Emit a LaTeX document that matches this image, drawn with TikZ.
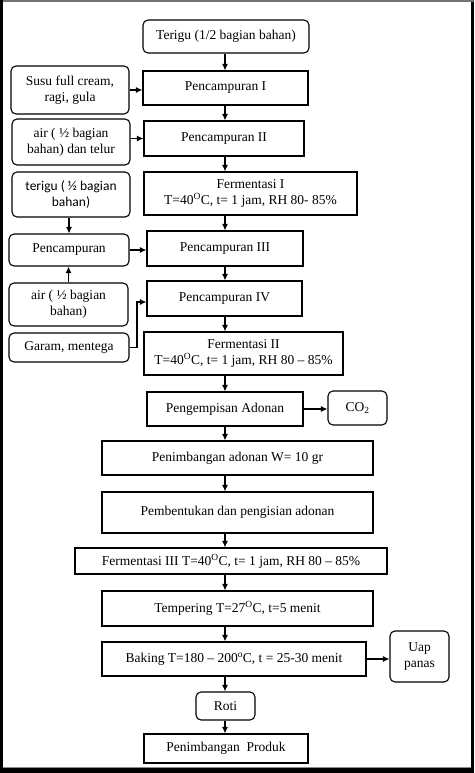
\documentclass[tikz,border=0pt]{standalone}
\usepackage{fontspec}
\setmainfont{Liberation Serif}
\newfontfamily\calfont{Carlito}
\usetikzlibrary{arrows.meta}
\tikzset{
  box/.style={draw=black, line width=1.1pt, inner sep=0pt, align=center,
    font=\fontsize{13.5}{16}\selectfont},
  rbox/.style={box, rounded corners=5pt},
  arr/.style={line width=1.1pt, -{Latex[length=6.5pt,width=6pt]}},
}
\begin{document}
\begin{tikzpicture}[x=1pt,y=-1pt]
\useasboundingbox (0,0) rectangle (474,773);
\fill[black] (0,0) rectangle (474,773);
\fill[black!55] (2.7,0) rectangle (474,2.3);
\fill[white] (2.7,2.3) rectangle (471,767.5);
\draw[black!45, line width=0.6pt] (2.7,767.3) -- (471,767.3);

\node[rbox, minimum width=166, minimum height=33] (t1) at (226,36.5) {Terigu (1/2 bagian bahan)};
\node[rbox, minimum width=118, minimum height=48] (susu) at (70,90) {Susu full cream,\\ragi, gula};
\node[box, minimum width=165, minimum height=34] (p1) at (225.5,88) {Pencampuran I};
\node[rbox, minimum width=118, minimum height=46] (air1) at (71,142) {air ( ½ bagian\\bahan) dan telur};
\node[box, minimum width=160, minimum height=35] (p2) at (224,138.5) {Pencampuran II};
\node[box, minimum width=213, minimum height=43] (f1) at (250.5,193.5) {Fermentasi I\\T=40\textsuperscript{O}C, t= 1 jam, RH 80- 85\%};
\node[rbox, minimum width=118, minimum height=45, font=\calfont\fontsize{13.5}{16}\selectfont] (t2) at (71,194.5) {terigu ( ½ bagian\\bahan)};
\node[rbox, minimum width=120, minimum height=32] (pc) at (69,250) {Pencampuran};
\node[box, minimum width=156, minimum height=35] (p3) at (225,248.5) {Pencampuran III};
\node[rbox, minimum width=119, minimum height=43] (air2) at (68.5,304.5) {air ( ½ bagian\\bahan)};
\node[rbox, minimum width=120, minimum height=29] (garam) at (69,347.5) {Garam, mentega};
\node[box, minimum width=155, minimum height=35] (p4) at (224.5,298.5) {Pencampuran IV};
\node[box, minimum width=199, minimum height=43] (f2) at (243.5,353.5) {Fermentasi II\\T=40\textsuperscript{O}C, t= 1 jam, RH 80 -- 85\%};
\node[box, minimum width=156, minimum height=34] (peng) at (225,409) {Pengempisan Adonan};
\node[rbox, minimum width=59, minimum height=34] (co2) at (357.5,408) {CO\textsubscript{2}};
\node[box, minimum width=271, minimum height=34] (pnb) at (237.5,458) {Penimbangan adonan W= 10 gr};
\node[box, minimum width=271, minimum height=41] (pmb) at (237.5,512.5) {Pembentukan dan pengisian adonan};
\node[box, minimum width=312, minimum height=26] (f3) at (231,561) {Fermentasi III T=40\textsuperscript{O}C, t= 1 jam, RH 80 -- 85\%};
\node[box, minimum width=271, minimum height=35] (temp) at (237.5,608.5) {Tempering T=27\textsuperscript{O}C, t=5 menit};
\node[box, minimum width=264, minimum height=34] (bake) at (234,659) {Baking T=180 -- 200\textsuperscript{o}C, t = 25-30 menit};
\node[rbox, minimum width=59, minimum height=51] (uap) at (419.5,656.5) {Uap\\panas};
\node[rbox, minimum width=59, minimum height=28] (roti) at (225.5,706) {Roti};
\node[box, minimum width=164, minimum height=29] (prod) at (226,748.5) {Penimbangan\ \ Produk};

\coordinate (c) at (225,0);
\draw[arr] (t1.south -| c) -- (p1.north -| c);
\draw[arr] (p1.south -| c) -- (p2.north -| c);
\draw[arr] (p2.south -| c) -- (f1.north -| c);
\draw[arr] (f1.south -| c) -- (p3.north -| c);
\draw[arr] (p3.south -| c) -- (p4.north -| c);
\draw[arr] (p4.south -| c) -- (f2.north -| c);
\draw[arr] (f2.south -| c) -- (peng.north -| c);
\draw[arr] (peng.south -| c) -- (pnb.north -| c);
\draw[arr] (pnb.south -| c) -- (pmb.north -| c);
\draw[arr] (pmb.south -| c) -- (f3.north -| c);
\draw[arr] (f3.south -| c) -- (temp.north -| c);
\draw[arr] (temp.south -| c) -- (bake.north -| c);
\draw[arr] (bake.south -| c) -- (roti.north -| c);
\draw[arr] (roti.south -| c) -- (prod.north -| c);

\draw[arr] (susu.east) -- (susu.east -| p1.west);
\draw[arr] (p2.west -| air1.east) -- (p2.west);
\draw[arr] (pc.north |- t2.south) -- (pc.north);
\draw[arr] (air2.north) -- (air2.north |- pc.south);
\draw[arr] (pc.east) -- (pc.east -| p3.west);
\coordinate (gk) at (137,302);
\draw[arr] (garam.east) -| (gk) -- (gk -| p4.west);
\draw[arr] (peng.east) -- (peng.east -| co2.west);
\draw[arr] (bake.east) -- (bake.east -| uap.west);
\end{tikzpicture}
\end{document}
